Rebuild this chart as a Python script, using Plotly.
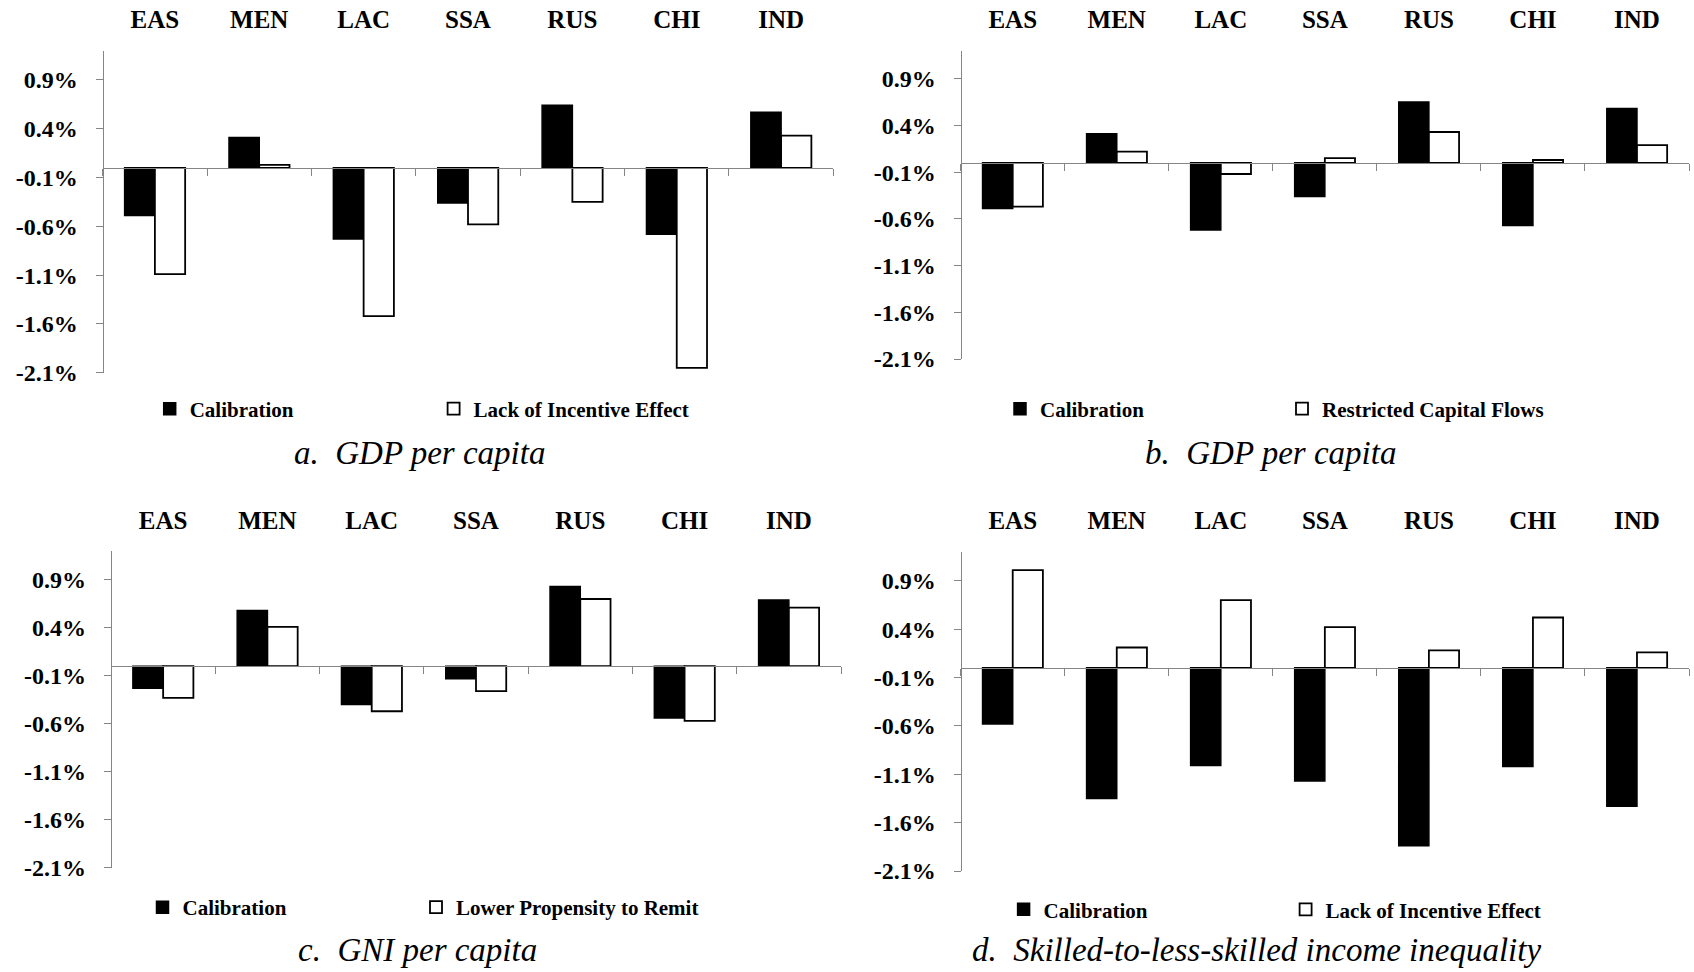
import plotly.graph_objects as go

W, H = 1694, 972

# ---------------- data ----------------
categories = ["EAS", "MEN", "LAC", "SSA", "RUS", "CHI", "IND"]

a_calibration = [-0.49, 0.31, -0.73, -0.36, 0.64, -0.68, 0.57]
a_lack_incentive = [-1.09, 0.03, -1.52, -0.58, -0.35, -2.05, 0.33]

b_calibration = [-0.49, 0.31, -0.72, -0.36, 0.65, -0.67, 0.58]
b_restricted_capital = [-0.47, 0.12, -0.12, 0.05, 0.33, 0.03, 0.19]

c_calibration = [-0.23, 0.58, -0.40, -0.13, 0.83, -0.54, 0.69]
c_lower_remit = [-0.33, 0.41, -0.47, -0.26, 0.70, -0.57, 0.61]

d_calibration = [-0.58, -1.35, -1.01, -1.17, -1.84, -1.02, -1.43]
d_lack_incentive = [1.01, 0.21, 0.70, 0.42, 0.18, 0.52, 0.16]

y_tick_values = [0.9, 0.4, -0.1, -0.6, -1.1, -1.6, -2.1]
y_tick_labels = ["0.9%", "0.4%", "-0.1%", "-0.6%", "-1.1%", "-1.6%", "-2.1%"]
y_range = [-2.1, 1.2]

series_names = {
    "a": ("Calibration", "Lack of Incentive Effect"),
    "b": ("Calibration", "Restricted Capital Flows"),
    "c": ("Calibration", "Lower Propensity to Remit"),
    "d": ("Calibration", "Lack of Incentive Effect"),
}
captions = {
    "a": "a.  GDP per capita",
    "b": "b.  GDP per capita",
    "c": "c.  GNI per capita",
    "d": "d.  Skilled-to-less-skilled income inequality",
}

# ---------------- layout (pixel geometry) ----------------
panels = [
    dict(key="a", cal=a_calibration, alt=a_lack_incentive,
         xpx=(102.7, 833.3), ypx=(50.7, 372.7), label_px=33,
         leg_sq=(161.7, 445.6), leg_y=409, cap=(419, 453)),
    dict(key="b", cal=b_calibration, alt=b_restricted_capital,
         xpx=(960.7, 1689.0), ypx=(50.7, 359.0), label_px=33,
         leg_sq=(1012, 1294), leg_y=409, cap=(1270, 453)),
    dict(key="c", cal=c_calibration, alt=c_lower_remit,
         xpx=(111.0, 841.0), ypx=(551.0, 867.7), label_px=534,
         leg_sq=(154.5, 428), leg_y=907.5, cap=(417, 950)),
    dict(key="d", cal=d_calibration, alt=d_lack_incentive,
         xpx=(960.7, 1689.0), ypx=(551.7, 871.0), label_px=534,
         leg_sq=(1015.6, 1297.6), leg_y=909.7, cap=(1256, 950)),
]

SERIF = "Liberation Serif"
AXIS_GRAY = "#858585"
LEG_OFFSET = 12.0  # legend box left -> symbol left

fig = go.Figure()
layout = dict(
    template="none",
    width=W, height=H,
    margin=dict(l=0, r=0, t=0, b=0, pad=0, autoexpand=False),
    paper_bgcolor="white", plot_bgcolor="white",
    bargap=0.42, bargroupgap=0.0, barmode="group",
    annotations=[],
    font=dict(family=SERIF, color="black"),
    showlegend=True,
)

for i, p in enumerate(panels, start=1):
    k = p["key"]
    xs = "" if i == 1 else str(i)
    xname, yname = "x" + xs, "y" + xs
    top_id = i + 4
    leg_ids = ["legend" if i == 1 else f"legend{2 * i - 1}", f"legend{2 * i}"]

    x0, x1 = p["xpx"][0] / W, p["xpx"][1] / W
    y0, y1 = 1 - p["ypx"][1] / H, 1 - p["ypx"][0] / H
    zero_pos = y0 + (0 - y_range[0]) / (y_range[1] - y_range[0]) * (y1 - y0)

    cal_name, alt_name = series_names[k]
    fig.add_trace(go.Bar(
        x=categories, y=p["cal"], name=cal_name,
        marker=dict(color="black", line=dict(color="black", width=1.5)),
        xaxis=xname, yaxis=yname, legend=leg_ids[0], offsetgroup="1",
    ))
    fig.add_trace(go.Bar(
        x=categories, y=p["alt"], name=alt_name,
        marker=dict(color="white", line=dict(color="black", width=1.8)),
        xaxis=xname, yaxis=yname, legend=leg_ids[1], offsetgroup="2",
    ))
    # invisible trace that carries the category labels on the top axis
    fig.add_trace(go.Scatter(
        x=categories, y=[None] * len(categories), mode="markers",
        xaxis=f"x{top_id}", yaxis=yname, showlegend=False, hoverinfo="skip",
    ))

    layout["xaxis" + xs] = dict(
        domain=[x0, x1], anchor="free", position=zero_pos,
        type="category", range=[-0.5, len(categories) - 0.5],
        showline=True, linecolor=AXIS_GRAY, linewidth=1.3,
        ticks="outside", tickson="boundaries", ticklen=7, tickwidth=1.2,
        tickcolor=AXIS_GRAY, showticklabels=False, showgrid=False,
        zeroline=False, fixedrange=True, automargin=False,
    )
    layout[f"xaxis{top_id}"] = dict(
        overlaying=xname, side="top", anchor="free",
        position=1 - p["label_px"] / H,
        type="category", range=[-0.5, len(categories) - 0.5],
        showline=False, ticks="", showgrid=False, zeroline=False,
        automargin=False, fixedrange=True,
        tickfont=dict(family=SERIF, size=25, color="black", weight="bold"),
    )
    layout["yaxis" + xs] = dict(
        domain=[y0, y1], anchor="free", position=x0,
        range=y_range, tickvals=y_tick_values, ticktext=y_tick_labels,
        showline=True, linecolor=AXIS_GRAY, linewidth=1.3,
        ticks="outside", ticklen=7, tickwidth=1.2, tickcolor=AXIS_GRAY,
        ticklabelstandoff=13,
        tickfont=dict(family=SERIF, size=24, color="black", weight="bold"),
        showgrid=False, zeroline=False, fixedrange=True, automargin=False,
    )
    for lid, sq in zip(leg_ids, p["leg_sq"]):
        layout[lid] = dict(
            orientation="h", x=(sq - LEG_OFFSET) / W, xanchor="left",
            y=1 - p["leg_y"] / H, yanchor="middle",
            font=dict(family=SERIF, size=21, color="black", weight="bold"),
            bgcolor="rgba(0,0,0,0)", borderwidth=0,
            itemclick=False, itemdoubleclick=False,
        )
    layout["annotations"].append(dict(
        text=captions[k], xref="paper", yref="paper",
        x=p["cap"][0] / W, y=1 - p["cap"][1] / H,
        xanchor="center", yanchor="middle", showarrow=False,
        font=dict(family=SERIF, size=33, color="black", style="italic"),
    ))

fig.update_layout(**layout)
fig.write_html(
    "out.html",
    config={"displayModeBar": False},
    post_script=(
        "document.documentElement.style.margin='0';"
        "document.body.style.margin='0';"
        "document.body.style.padding='0';"
        "document.body.style.overflow='hidden';"
    ),
)
